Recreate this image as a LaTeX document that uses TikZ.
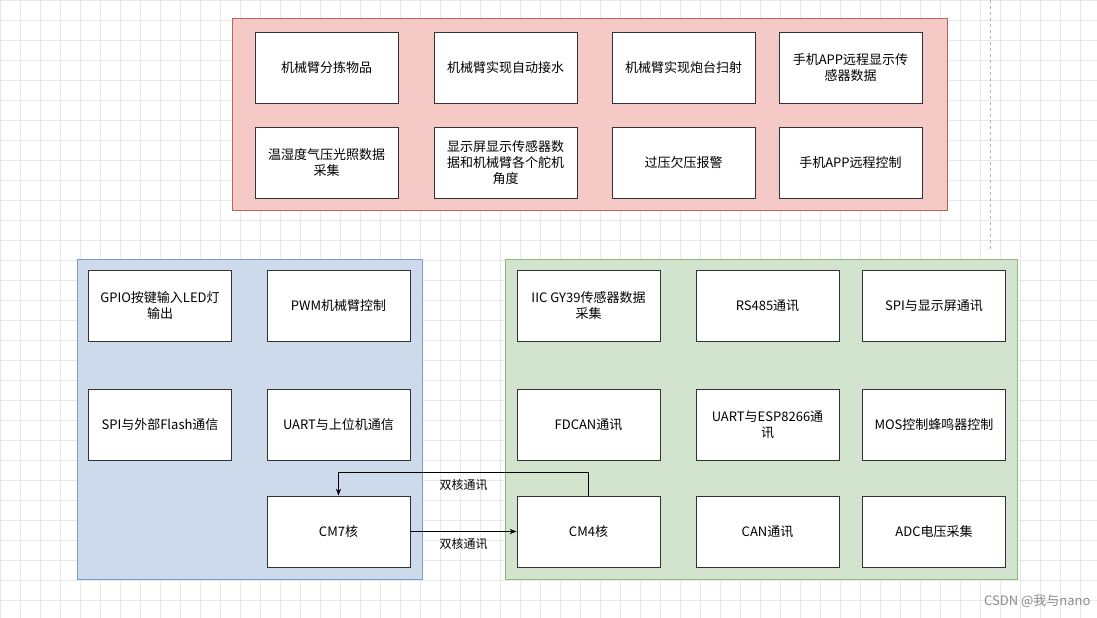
\documentclass[tikz,border=0pt]{standalone}
\usepackage{fontspec}
\setmainfont{Noto Sans CJK SC}
\usetikzlibrary{arrows.meta}
\definecolor{rf}{HTML}{F5CAC6}\definecolor{rb}{HTML}{C0605A}
\definecolor{bf}{HTML}{CDDAEC}\definecolor{bb}{HTML}{7A9CCB}
\definecolor{gf}{HTML}{D3E4CE}\definecolor{gb}{HTML}{8DBA78}
\begin{document}
\begin{tikzpicture}[x=1pt,y=-1pt,
 box/.style={draw=black!80,fill=white,line width=0.8pt,minimum width=143pt,minimum height=71pt,align=center,font=\fontsize{13}{16}\selectfont,inner sep=2pt},
 grp/.style={line width=1pt},
 lab/.style={font=\fontsize{12}{14}\selectfont}]
\useasboundingbox (0,0) rectangle (1097,618);
\fill[white] (0,0) rectangle (1097,618);
\foreach \i in {0,20,...,1090} \draw[black!9,line width=0.5pt] (\i,0) -- (\i,618);
\foreach \j in {0,20,...,610} \draw[black!9,line width=0.5pt] (0,\j) -- (1097,\j);
\draw[black!30,dashed] (990,0) -- (990,250);
\draw[grp,draw=rb,fill=rf] (232,19) rectangle (947,210);
\draw[grp,draw=bb,fill=bf] (77,259) rectangle (422,579);
\draw[grp,draw=gb,fill=gf] (505,259) rectangle (1017,579);
\node[box] (a1) at (326.5,67.5) {机械臂分拣物品};
\node[box] (a2) at (505.5,67.5) {机械臂实现自动接水};
\node[box] (a3) at (683.5,67.5) {机械臂实现炮台扫射};
\node[box] (a4) at (850.5,67.5) {手机APP远程显示传\\感器数据};
\node[box] (b1) at (326.5,162.5) {温湿度气压光照数据\\采集};
\node[box] (b2) at (505.5,162.5) {显示屏显示传感器数\\据和机械臂各个舵机\\角度};
\node[box] (b3) at (683.5,162.5) {过压欠压报警};
\node[box] (b4) at (850.5,162.5) {手机APP远程控制};
\node[box] (c1) at (160,305.5) {GPIO按键输入LED灯\\输出};
\node[box] (c2) at (338.5,305.5) {PWM机械臂控制};
\node[box] (c3) at (160,424.5) {SPI与外部Flash通信};
\node[box] (c4) at (338.5,424.5) {UART与上位机通信};
\node[box] (cm7) at (338.5,531.5) {CM7核};
\node[box] (d1) at (588.5,305.5) {IIC GY39传感器数据\\采集};
\node[box] (d2) at (767.5,305.5) {RS485通讯};
\node[box] (d3) at (934,305.5) {SPI与显示屏通讯};
\node[box] (e1) at (588.5,424.5) {FDCAN通讯};
\node[box] (e2) at (767.5,424.5) {UART与ESP8266通\\讯};
\node[box] (e3) at (934,424.5) {MOS控制蜂鸣器控制};
\node[box] (cm4) at (588.5,531.5) {CM4核};
\node[box] (f2) at (767.5,531.5) {CAN通讯};
\node[box] (f3) at (934,531.5) {ADC电压采集};
\draw[-{Stealth[length=7pt]},line width=0.8pt] (cm7.east) -- node[lab,below=3pt]{双核通讯} (cm4.west);
\draw[-{Stealth[length=7pt]},line width=0.8pt] (cm4.north) -- ++(0,-23) -| node[lab,pos=0.25,below=3pt]{双核通讯} (cm7.north);
\node[text=black!45,font=\fontsize{13}{15}\selectfont,anchor=east] (wm) at (1094,601) {CSDN @我与nano};
\end{tikzpicture}
\end{document}
